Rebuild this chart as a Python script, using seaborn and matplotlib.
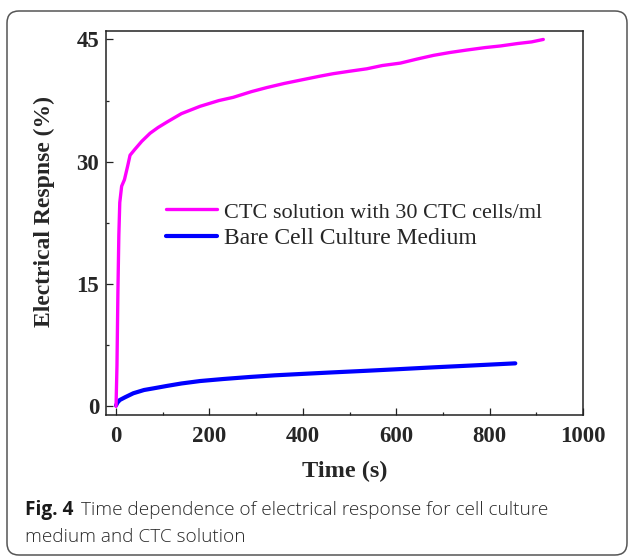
import numpy as np
import pandas as pd
import matplotlib
matplotlib.use("Agg")
import matplotlib.pyplot as plt
import seaborn as sns
from matplotlib.patches import FancyBboxPatch
from matplotlib.transforms import IdentityTransform
from matplotlib.ticker import MultipleLocator
from matplotlib.lines import Line2D

# ---- data ----
ctc_label = "CTC solution with 30 CTC cells/ml"
bare_label = "Bare Cell Culture Medium"

ctc_time = [0, 2, 4, 6, 8, 12, 18, 25, 30, 40, 55, 73, 90, 110, 140, 180, 220, 251,
            290, 323, 360, 394, 437, 465, 500, 537, 570, 609, 645, 680, 715, 751,
            790, 823, 860, 890, 915]
ctc_resp = [0, 5, 14, 21, 25, 27, 27.8, 29.5, 30.8, 31.5, 32.5, 33.5, 34.2, 34.9,
            35.9, 36.8, 37.5, 37.9, 38.6, 39.1, 39.6, 40.0, 40.5, 40.8, 41.1, 41.4,
            41.8, 42.1, 42.6, 43.05, 43.4, 43.7, 44.0, 44.2, 44.5, 44.7, 45.0]

bare_time = [0, 3, 8, 19, 37, 60, 80, 109, 140, 180, 230, 287, 340, 394, 460, 537,
             610, 680, 760, 855]
bare_resp = [0.1, 0.45, 0.77, 1.1, 1.6, 2.0, 2.2, 2.5, 2.8, 3.1, 3.35, 3.6, 3.8,
             3.96, 4.15, 4.36, 4.57, 4.78, 5.0, 5.27]

x_ticks = [0, 200, 400, 600, 800, 1000]
y_ticks = [0, 15, 30, 45]

df = pd.concat([
    pd.DataFrame({"Time": ctc_time, "Resp": ctc_resp, "Series": ctc_label}),
    pd.DataFrame({"Time": bare_time, "Resp": bare_resp, "Series": bare_label}),
], ignore_index=True)

sns.set_theme(style="ticks")
plt.rcParams["font.family"] = ["Liberation Serif", "DejaVu Serif"]

W, H = 629, 557
fig = plt.figure(figsize=(W / 100, H / 100), dpi=100)
ax = fig.add_axes([106 / W, 1 - 414.7 / H, (583 - 106) / W, (414.7 - 31.3) / H])

sns.lineplot(data=df, x="Time", y="Resp", hue="Series",
             hue_order=[ctc_label, bare_label],
             palette={ctc_label: "#FF00FF", bare_label: "#0000FF"},
             sort=False, estimator=None, ax=ax, legend=False)

lines = ax.get_lines()
lines[0].set_linewidth(2.4)
lines[0].set_zorder(3)
lines[1].set_linewidth(3.0)
lines[1].set_zorder(2)

ax.set_xlim(-21.5, 1000)
ax.set_ylim(-1.03, 46)
ax.set_xticks(x_ticks)
ax.set_yticks(y_ticks)
ax.xaxis.set_minor_locator(MultipleLocator(100))
ax.yaxis.set_minor_locator(MultipleLocator(7.5))
ax.tick_params(which="both", direction="in", top=False, right=False,
               width=0.9, color="#222222")
ax.tick_params(which="major", length=5)
ax.tick_params(which="minor", length=2.3)
for lab in ax.get_xticklabels() + ax.get_yticklabels():
    lab.set_fontweight("bold")
    lab.set_fontsize(16.5)
ax.tick_params(axis="x", pad=8)
ax.tick_params(axis="y", pad=5)
for s in ax.spines.values():
    s.set_linewidth(1.1)
    s.set_color("#222222")

ax.set_xlabel("Time (s)", fontsize=17.5, fontweight="bold", labelpad=10)
ax.set_ylabel("Electrical Respnse (%)", fontsize=17, fontweight="bold")
ax.yaxis.set_label_coords(-0.107, 0.529)

handles = [Line2D([], [], color="#FF00FF", lw=2.4),
           Line2D([], [], color="#0000FF", lw=3.0)]
leg = ax.legend(handles, [ctc_label, bare_label], loc="center left",
                bbox_to_anchor=(0.1258, 0.4948), frameon=False, fontsize=17,
                handlelength=2.16, handletextpad=0.3, borderpad=0, borderaxespad=0,
                labelspacing=0.2)
leg.get_texts()[0].set_fontsize(16)

# outer rounded frame
frame = FancyBboxPatch((7, 2), 620, 544, boxstyle="round,pad=0,rounding_size=12",
                       transform=IdentityTransform(), fill=False,
                       edgecolor="#555555", linewidth=1.1)
fig.patches.append(frame)

# caption
cap_font = ["Open Sans", "DejaVu Sans"]
cap_size = 13.7
t1 = fig.text(25 / W, 1 - 510 / H, "Fig. 4", fontsize=cap_size, fontweight="bold",
              family=cap_font, va="center", ha="left", color="#1a1a1a")
fig.canvas.draw()
bb = t1.get_window_extent()
fig.text((bb.x1 + 8) / W, 1 - 510 / H,
         "Time dependence of electrical response for cell culture",
         fontsize=cap_size, family=cap_font, fontweight="light",
         va="center", ha="left", color="#2a2a2a")
fig.text(25 / W, 1 - 537 / H, "medium and CTC solution", fontsize=cap_size,
         family=cap_font, fontweight="light", va="center", ha="left", color="#2a2a2a")

fig.savefig("out.png", dpi=100)
